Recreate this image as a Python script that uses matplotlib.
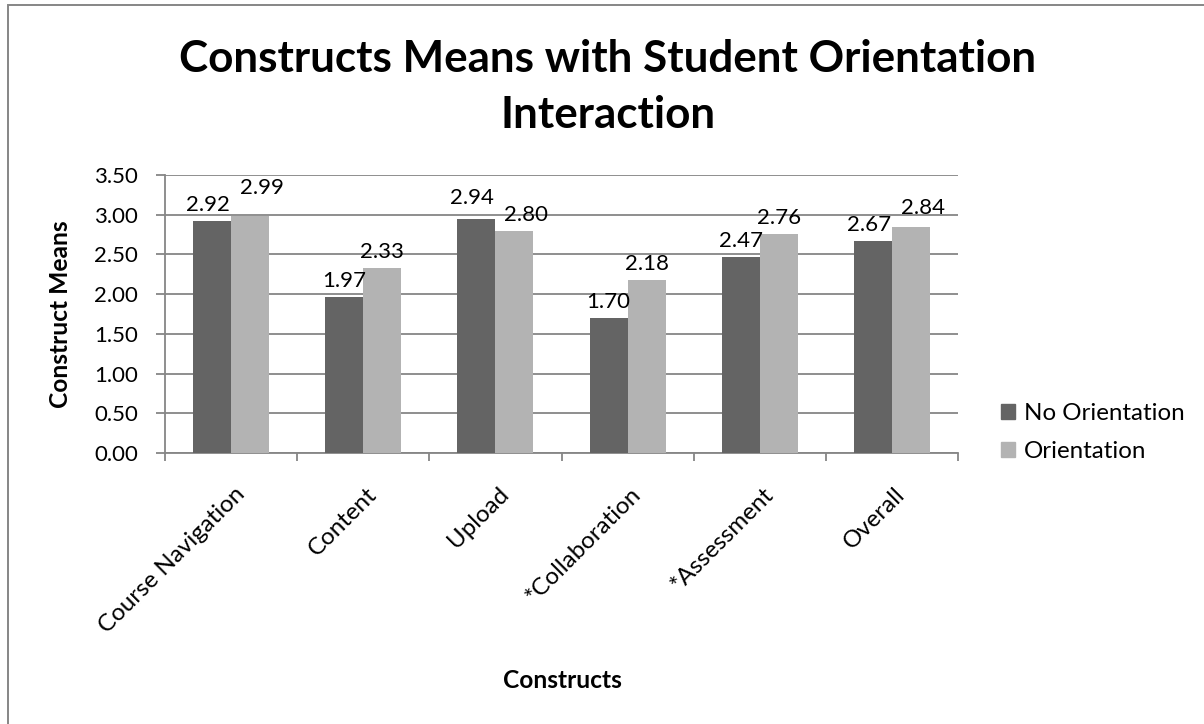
import matplotlib
matplotlib.use("Agg")
import matplotlib.pyplot as plt
import numpy as np
from matplotlib.patches import Rectangle, Patch
from matplotlib.ticker import FixedLocator, FormatStrFormatter
import matplotlib.transforms as mtransforms

categories = ["Course Navigation", "Content", "Upload", "*Collaboration", "*Assessment", "Overall"]
no_orientation = [2.92, 1.97, 2.94, 1.70, 2.47, 2.67]
orientation = [2.99, 2.33, 2.80, 2.18, 2.76, 2.84]
series_names = ["No Orientation", "Orientation"]
title_lines = ["Constructs Means with Student Orientation", "Interaction"]
y_label = "Construct Means"
x_label = "Constructs"
y_ticks = [0.0, 0.5, 1.0, 1.5, 2.0, 2.5, 3.0, 3.5]

DARK = "#646464"
LIGHT = "#b3b3b3"
GRID = "#868686"
FONT = "Lato"

W, H = 1204, 724
DPI = 100
plt.rcParams["font.family"] = [FONT, "DejaVu Sans"]
fig = plt.figure(figsize=(W / DPI, H / DPI), dpi=DPI)
renderer = fig.canvas.get_renderer()

def px2pt(px):
    return px * 72.0 / DPI

def fit_size(text, target_px, size=16, weight="normal"):
    t = fig.text(0, 0, text, fontsize=size, fontweight=weight)
    w = t.get_window_extent(renderer=renderer).width
    t.remove()
    return size * target_px / w

num_fs = fit_size("3.50", 44)
txt_fs = fit_size("No Orientation", 161)
title_fs = fit_size(title_lines[0], 856, 30, "bold")
lab_fs = fit_size(x_label, 119, 16, "bold")

# frame border (clipped by image edges)
fig.patches.append(Rectangle((8 / W, -0.05), 1.2, 1 - 5 / H + 0.05, transform=fig.transFigure,
                             fill=False, edgecolor=GRID, linewidth=1.4, zorder=0))

left, right, top, bottom = 165, 958, 175, 453
ax = fig.add_axes([left / W, 1 - bottom / H, (right - left) / W, (bottom - top) / H])

x = np.arange(len(categories))
bw = 38 / ((right - left) / len(categories))
b1 = ax.bar(x - bw / 2, no_orientation, bw, color=DARK, zorder=3, label=series_names[0])
b2 = ax.bar(x + bw / 2, orientation, bw, color=LIGHT, zorder=3, label=series_names[1])

# data labels; nudge apart when a category's two labels would collide
px_per_unit = (bottom - top) / 3.5
for i in range(len(categories)):
    v1, v2 = no_orientation[i], orientation[i]
    close = abs(v1 - v2) * px_per_unit < 20
    dx1, dx2 = (-4, 12) if close else (0, 0)
    dy1 = dy2 = 10
    if close:
        if v2 >= v1:
            dy2 = 10 + max(0, 17 - (v2 - v1) * px_per_unit)
        else:
            dy1 = 10 + max(0, 17 - (v1 - v2) * px_per_unit)
    for xi, v, dx, dy in ((x[i] - bw / 2, v1, dx1, dy1), (x[i] + bw / 2, v2, dx2, dy2)):
        ax.annotate(f"{v:.2f}", (xi, v), xytext=(px2pt(dx), px2pt(dy)), textcoords="offset points",
                    ha="center", va="baseline", fontsize=num_fs, color="black", zorder=4)

ax.set_xlim(-0.5, len(categories) - 0.5)
ax.set_ylim(0, 3.5)
ax.set_yticks(y_ticks)
ax.yaxis.set_major_formatter(FormatStrFormatter("%.2f"))
ax.grid(axis="y", color=GRID, linewidth=1.3, zorder=0)
ax.set_axisbelow(True)
for s in ("top", "right"):
    ax.spines[s].set_visible(False)
for s in ("left", "bottom"):
    ax.spines[s].set_color(GRID)
    ax.spines[s].set_linewidth(1.3)
ax.tick_params(axis="y", direction="out", length=px2pt(9), width=1.3, color=GRID,
               pad=px2pt(18), labelsize=num_fs)

ax.set_xticks(x)
ax.set_xticklabels(categories, rotation=45, ha="right", va="center", rotation_mode="anchor",
                   fontsize=txt_fs)
ax.tick_params(axis="x", which="major", length=0, pad=px2pt(38))
ax.xaxis.set_minor_locator(FixedLocator(np.arange(-0.5, len(categories), 1.0)))
ax.tick_params(axis="x", which="minor", direction="out", length=px2pt(8), width=1.3, color=GRID)
offset = mtransforms.ScaledTranslation(px2pt(10) / 72, 0, fig.dpi_scale_trans)
for lab in ax.get_xticklabels():
    lab.set_transform(lab.get_transform() + offset)

cx = 608 / W
fig.text(cx, 1 - 72 / H, title_lines[0], ha="center", va="baseline", fontsize=title_fs, fontweight="bold")
fig.text(cx, 1 - 128 / H, title_lines[1], ha="center", va="baseline", fontsize=title_fs, fontweight="bold")

fig.text(60 / W, 1 - (top + bottom) / 2 / H, y_label, rotation=90, ha="center", va="center",
         fontsize=lab_fs, fontweight="bold")
fig.text(562 / W, 1 - 680 / H, x_label, ha="center", va="center", fontsize=lab_fs, fontweight="bold")

hs = 14 / (txt_fs * DPI / 72)
handles = [Patch(color=DARK), Patch(color=LIGHT)]
leg = fig.legend(handles, series_names, loc="center left", bbox_to_anchor=(1001 / W, 1 - 432.5 / H),
                 frameon=False, fontsize=txt_fs, handlelength=hs, handleheight=hs,
                 handletextpad=0.38, labelspacing=0.72, borderpad=0, borderaxespad=0)

fig.savefig("out.png", dpi=DPI)
